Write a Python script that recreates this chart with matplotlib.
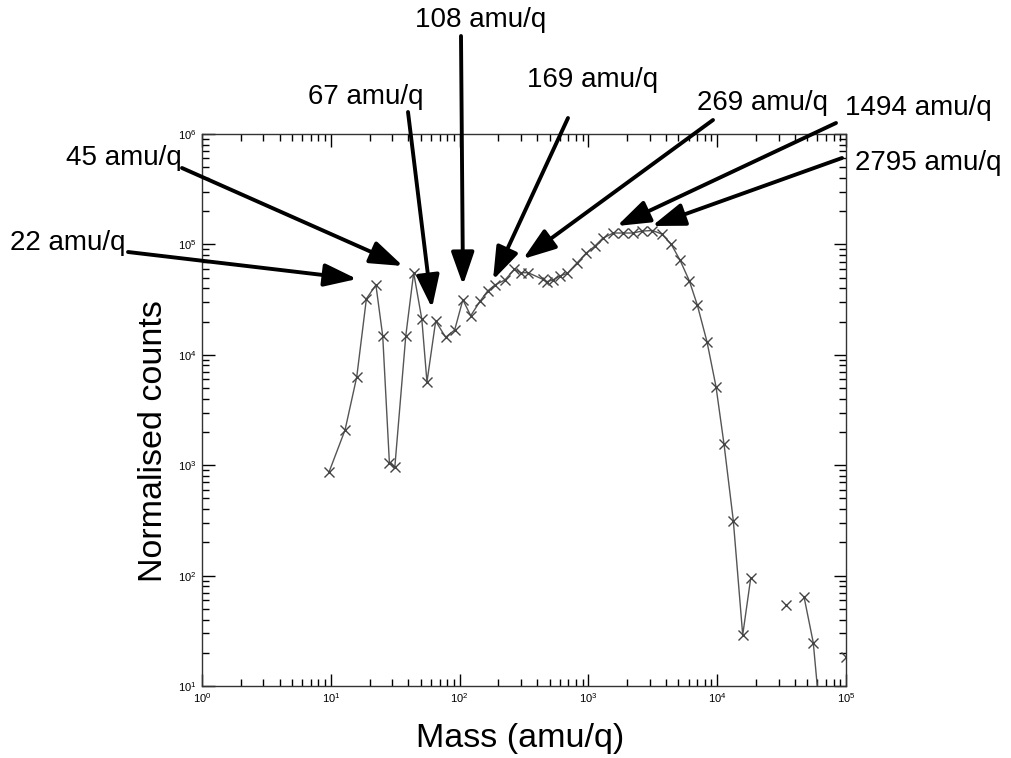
import numpy as np
import matplotlib
matplotlib.use("Agg")
import matplotlib.pyplot as plt

plt.rcParams['font.family'] = ['Liberation Sans', 'DejaVu Sans']
plt.rcParams['mathtext.fontset'] = 'custom'
plt.rcParams['mathtext.rm'] = 'Liberation Sans'
plt.rcParams['mathtext.it'] = 'Liberation Sans'

# mass (amu/q) and normalised counts; nan breaks the line
mass = [9.7, 12.9, 15.9, 18.9, 22.4, 25.3, 28.5, 31.4, 38.2, 44.0,
        50.9, 55.8, 65.2, 77.9, 91.6, 106, 122, 144, 165, 188,
        225, 266, 298, 341, 442, 475, 528, 602, 686, 811,
        958, 1125, 1290, 1560, 1866, 2220, 2590, 3145, 3710, 4380,
        5140, 6070, 7010, 8340, 9790, 11300, 13340, 15780, 18200, np.nan,
        34200, np.nan, 47200, 55700, 65800, np.nan, 100000]
counts = [870, 2085, 6300, 32200, 42900, 14800, 1054, 957, 14800, 55400,
          21000, 5670, 20200, 14400, 16800, 31500, 22600, 30500, 37800, 42900,
          47600, 59500, 55400, 55400, 48300, 45900, 47600, 51800, 54700, 67400,
          83000, 96800, 113500, 126800, 126800, 126800, 132000, 133600, 124200, 101000,
          72200, 46900, 28200, 13060, 5140, 1545, 314, 29.0, 94.6, np.nan,
          54.2, np.nan, 64.4, 24.7, 3.0, np.nan, 18.3]

peak_labels = ['22 amu/q', '45 amu/q', '67 amu/q', '108 amu/q',
               '169 amu/q', '269 amu/q', '1494 amu/q', '2795 amu/q']

fig = plt.figure(figsize=(10.11, 7.58), dpi=100)
W, H = 1011.0, 758.0
ax = fig.add_axes([202 / W, 1 - 686 / H, 644 / W, 552 / H])


def px(x, y):
    return (x / W, 1 - y / H)


ax.plot(mass, counts, color='#555555', lw=1.0, marker='x', ms=7,
        mec='#444444', mew=1.0)
ax.set_xscale('log')
ax.set_yscale('log')
ax.set_xlim(1, 1e5)
ax.set_ylim(10, 1e6)

ax.tick_params(which='both', direction='in', top=True, right=True,
               labelsize=8, width=1, colors='black', pad=4)
ax.tick_params(which='major', length=9)
ax.tick_params(which='minor', length=5)
for s in ax.spines.values():
    s.set_linewidth(1.0)
    s.set_color('#333333')

fig.text(*px(520, 738), 'Mass (amu/q)', fontsize=24.5, ha='center', va='center')
fig.text(*px(153, 441), 'Normalised counts', fontsize=24.5, ha='center',
         va='center', rotation=90)

# label text (left, centre-y), arrow tail and arrow tip in image pixels
text_pos = [(10, 243), (66, 158), (308, 97), (415, 20),
            (527, 80), (697, 103), (845, 108), (855, 163)]
tails = [(128, 252), (182, 168), (408, 112), (461, 36),
         (568, 118), (713, 120), (836, 123), (842, 158)]
tips = [(357, 279), (403, 266), (432, 308), (463, 285),
        (493, 280), (523, 259), (617, 226), (652, 226)]

for lab, tp, tl, tip in zip(peak_labels, text_pos, tails, tips):
    fig.text(*px(*tp), lab, fontsize=20, ha='left', va='center')
    ax.annotate('', xy=px(*tip), xycoords='figure fraction',
                xytext=px(*tl), textcoords='figure fraction',
                arrowprops=dict(arrowstyle='-|>,head_length=1.0,head_width=0.35',
                                lw=2.8, color='black', mutation_scale=20,
                                shrinkA=0, shrinkB=0))

fig.savefig('out.png', dpi=100)
